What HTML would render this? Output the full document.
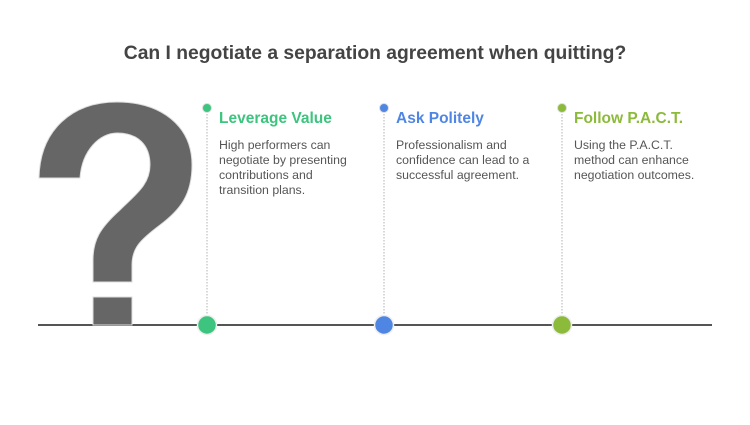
<!DOCTYPE html>
<html><head><style>
body{margin:0;width:750px;height:425px;background:#fff;font-family:"Liberation Sans",sans-serif;position:relative;overflow:hidden}
.t{position:absolute;top:43px;left:0;width:750px;text-align:center;font-size:19.3px;font-weight:bold;color:#444}
.h{position:absolute;font-size:15.5px;font-weight:bold;top:110px}
.p{position:absolute;font-size:12.3px;line-height:15px;color:#555;top:138px;width:140px}
</style></head><body>
<div class="t">Can I negotiate a separation agreement when quitting?</div>
<svg width="750" height="425" style="position:absolute;left:0;top:0">
<line x1="38" y1="325" x2="712" y2="325" stroke="#555" stroke-width="2"/>
<path d="M39,178 L80,178 C82,150 100,133 117,133 C138,133 150,145 150,165 C150,185 135,195 120,210 C100,228 93,240 93,260 L93,282 L132,282 L132,265 C132,248 140,240 160,225 C180,210 192,195 192,165 C192,125 160,102 117,102 C72,102 40,130 39,178 Z" fill="#666" stroke="#ddd" stroke-width="1"/>
<rect x="93" y="297" width="39" height="28" fill="#666" stroke="#ddd" stroke-width="1"/>
<g stroke="#ccc" stroke-width="1.5" stroke-dasharray="1.5,1.5">
<line x1="207" y1="108" x2="207" y2="318"/>
<line x1="384" y1="108" x2="384" y2="318"/>
<line x1="562" y1="108" x2="562" y2="318"/>
</g>
<circle cx="207" cy="108" r="4.5" fill="#3dc47e" stroke="#ddd"/>
<circle cx="384" cy="108" r="4.5" fill="#4f86e4" stroke="#ddd"/>
<circle cx="562" cy="108" r="4.5" fill="#8cba3a" stroke="#ddd"/>
<circle cx="207" cy="325" r="9.5" fill="#3dc47e" stroke="#eee" stroke-width="1.5"/>
<circle cx="384" cy="325" r="9.5" fill="#4f86e4" stroke="#eee" stroke-width="1.5"/>
<circle cx="562" cy="325" r="9.5" fill="#8cba3a" stroke="#eee" stroke-width="1.5"/>
</svg>
<div class="h" style="left:219px;color:#3dc47e">Leverage Value</div>
<div class="p" style="left:219px">High performers can negotiate by presenting contributions and transition plans.</div>
<div class="h" style="left:396px;color:#4f86e4">Ask Politely</div>
<div class="p" style="left:396px">Professionalism and confidence can lead to a successful agreement.</div>
<div class="h" style="left:574px;color:#8cba3a">Follow P.A.C.T.</div>
<div class="p" style="left:574px">Using the P.A.C.T. method can enhance negotiation outcomes.</div>
</body></html>
